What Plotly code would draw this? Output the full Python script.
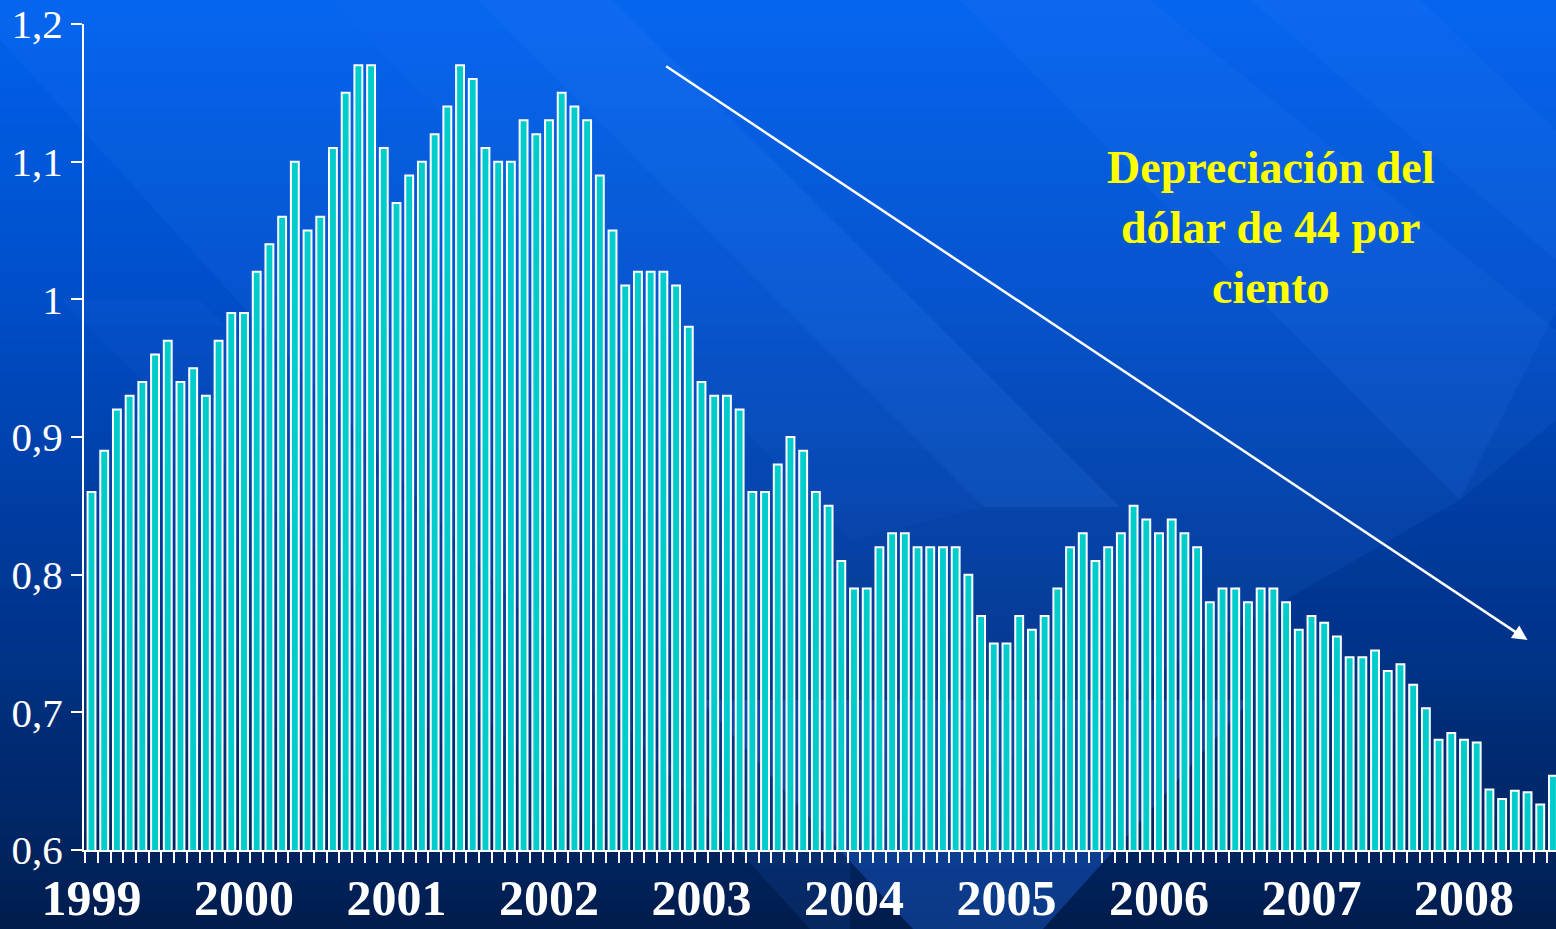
import plotly.graph_objects as go

# ---------------- data ----------------
years = ["1999", "2000", "2001", "2002", "2003", "2004", "2005", "2006", "2007", "2008"]
# monthly values, Jan 1999 .. Aug 2008
values_1999 = [0.86, 0.89, 0.92, 0.93, 0.94, 0.96, 0.97, 0.94, 0.95, 0.93, 0.97, 0.99]
values_2000 = [0.99, 1.02, 1.04, 1.06, 1.10, 1.05, 1.06, 1.11, 1.15, 1.17, 1.17, 1.11]
values_2001 = [1.07, 1.09, 1.10, 1.12, 1.14, 1.17, 1.16, 1.11, 1.10, 1.10, 1.13, 1.12]
values_2002 = [1.13, 1.15, 1.14, 1.13, 1.09, 1.05, 1.01, 1.02, 1.02, 1.02, 1.01, 0.98]
values_2003 = [0.94, 0.93, 0.93, 0.92, 0.86, 0.86, 0.88, 0.90, 0.89, 0.86, 0.85, 0.81]
values_2004 = [0.79, 0.79, 0.82, 0.83, 0.83, 0.82, 0.82, 0.82, 0.82, 0.80, 0.77, 0.75]
values_2005 = [0.75, 0.77, 0.76, 0.77, 0.79, 0.82, 0.83, 0.81, 0.82, 0.83, 0.85, 0.84]
values_2006 = [0.83, 0.84, 0.83, 0.82, 0.78, 0.79, 0.79, 0.78, 0.79, 0.79, 0.78, 0.76]
values_2007 = [0.77, 0.765, 0.755, 0.74, 0.74, 0.745, 0.73, 0.735, 0.72, 0.703, 0.68, 0.685]
values_2008 = [0.68, 0.678, 0.644, 0.637, 0.643, 0.642, 0.633, 0.654]

values = (values_1999 + values_2000 + values_2001 + values_2002 + values_2003 +
          values_2004 + values_2005 + values_2006 + values_2007 + values_2008)
months = list(range(len(values)))

y_tick_vals = [0.6, 0.7, 0.8, 0.9, 1.0, 1.1, 1.2]
y_tick_text = ["0,6", "0,7", "0,8", "0,9", "1", "1,1", "1,2"]

note_text = "Depreciación del<br>dólar de 44 por<br>ciento"
# arrow endpoints (month index, value)
arrow_start = (45.1, 1.170)
arrow_end = (113.0, 0.7525)

# ---------------- layout geometry ----------------
W, H = 1556, 929
ML, MR, MT, MB = 84, 0, 24, 79
PW, PH = W - ML - MR, H - MT - MB


def px(x):
    return (x - ML) / PW


def py(y):
    return (H - MB - y) / PH


def poly(points, color, layer="below"):
    d = "M " + " L ".join(f"{px(x):.5f},{py(y):.5f}" for x, y in points) + " Z"
    return dict(type="path", xref="paper", yref="paper", path=d,
                fillcolor=color, line=dict(width=0), layer=layer)


shapes = []
# vertical gradient background
stops = [(0, (0, 98, 238)), (300, (0, 78, 200)), (575, (0, 56, 150)),
         (850, (0, 36, 96)), (929, (0, 28, 76))]


def grad(y):
    for (y0, c0), (y1, c1) in zip(stops[:-1], stops[1:]):
        if y0 <= y <= y1:
            t = (y - y0) / (y1 - y0)
            return tuple(int(round(a + (b - a) * t)) for a, b in zip(c0, c1))
    return stops[-1][1]


nb = 60
for i in range(nb):
    y0 = H * i / nb
    y1 = H * (i + 1) / nb + 1
    c = grad((y0 + y1) / 2)
    shapes.append(poly([(-5, y0), (W + 5, y0), (W + 5, y1), (-5, y1)],
                       f"rgb({c[0]},{c[1]},{c[2]})"))

LIGHT = "rgba(60,140,255,{a})"

# large lighter region above the diagonal from (0,40) (stops at bottom-right V)
shapes.append(poly([(0, 40), (0, -5), (W + 5, -5), (W + 5, 300), (1460, 500),
                    (850, 850), (850, 929), (810, 929)],
                   LIGHT.format(a=0.10)))
# bright stripe (slope 1)
shapes.append(poly([(477, 0), (613, 0), (1120, 507), (984, 507)], LIGHT.format(a=0.14)))
shapes.append(poly([(330, 0), (477, 0), (984, 507), (850, 540)], LIGHT.format(a=0.05)))
# top-right stripes (steeper)
shapes.append(poly([(960, 0), (1150, 0), (1556, 330), (1556, 420), (1460, 500)],
                   LIGHT.format(a=0.10)))
shapes.append(poly([(1250, 0), (1420, 0), (1556, 130), (1556, 260)], LIGHT.format(a=0.10)))
# stripe behind mid bars going down-left to bottom
shapes.append(poly([(60, 300), (200, 300), (760, 850), (620, 850)], LIGHT.format(a=0.06)))
# lighter wedge at bottom centre
shapes.append(poly([(700, 700), (1250, 700), (1043, 929), (913, 929)],
                   "rgba(30,100,220,0.40)"))

fig = go.Figure()
fig.add_trace(go.Bar(
    x=months, y=values, width=0.62,
    marker=dict(color="#00CCCC", line=dict(color="white", width=2)),
    hoverinfo="y",
))

fig.add_annotation(
    x=arrow_end[0], y=arrow_end[1], ax=arrow_start[0], ay=arrow_start[1],
    xref="x", yref="y", axref="x", ayref="y", text="",
    showarrow=True, arrowhead=2, arrowsize=1.2, arrowwidth=2.5, arrowcolor="white",
)
fig.add_annotation(
    x=px(1270), y=py(227), xref="paper", yref="paper", text=note_text,
    showarrow=False, xanchor="center", yanchor="middle", align="center",
    font=dict(family="Liberation Serif", size=46, color="#FFFF00", weight="bold"),
)

fig.update_layout(
    width=W, height=H,
    margin=dict(l=ML, r=MR, t=MT, b=MB, pad=0, autoexpand=False),
    paper_bgcolor="#002466", plot_bgcolor="rgba(0,0,0,0)",
    showlegend=False, shapes=shapes, bargap=0.4,
    xaxis=dict(
        range=[-0.59, 115.24], showgrid=False, zeroline=False, automargin=False,
        showline=True, linecolor="white", linewidth=2,
        tickmode="array", tickvals=[12 * i for i in range(len(years))], ticktext=years,
        ticks="", ticklabelstandoff=3,
        tickfont=dict(family="Liberation Serif", size=50, color="white", weight="bold"),
        minor=dict(tickmode="linear", tick0=-0.5, dtick=1, ticks="outside",
                   ticklen=11, tickwidth=2, tickcolor="white", showgrid=False),
    ),
    yaxis=dict(
        range=[0.6, 1.2], showgrid=False, zeroline=False, automargin=False,
        showline=True, linecolor="white", linewidth=2,
        tickmode="array", tickvals=y_tick_vals, ticktext=y_tick_text,
        ticks="outside", ticklen=11, tickwidth=2, tickcolor="white",
        tickfont=dict(family="Liberation Serif", size=41, color="white"),
    ),
)

fig.write_html("out.html")
